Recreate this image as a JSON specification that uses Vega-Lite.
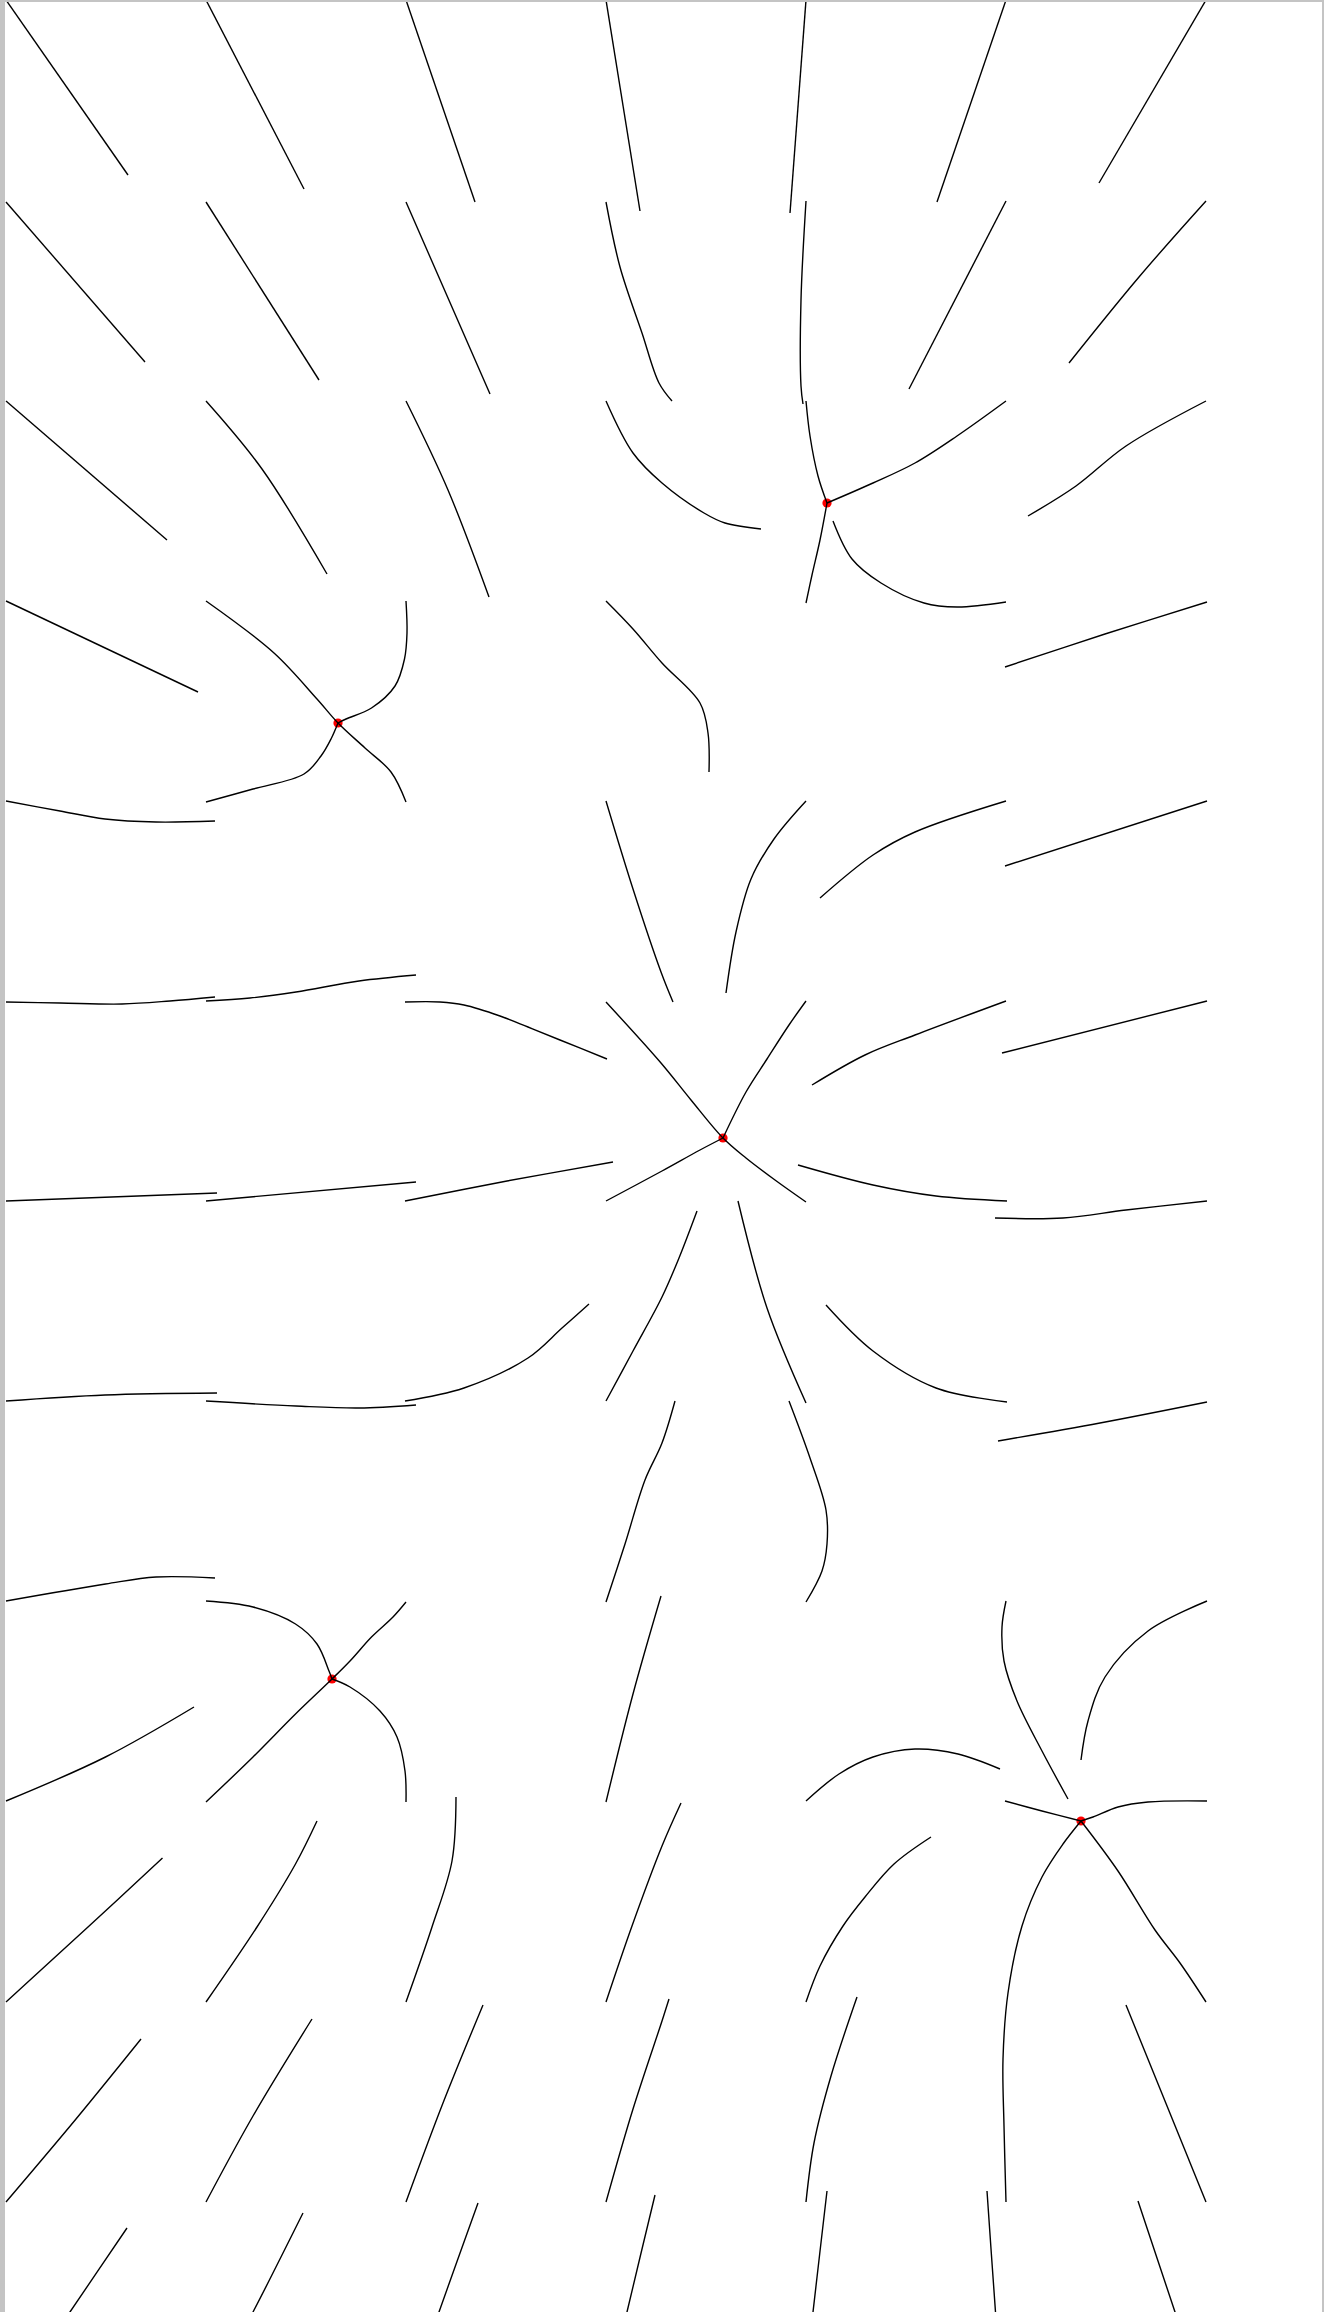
{
  "$schema": "https://vega.github.io/schema/vega-lite/v6.json",
  "autosize": {"type": "fit", "contains": "padding"},
  "width": 1324,
  "height": 2312,
  "padding": {"left": 5, "top": 2, "right": 2, "bottom": 0},
  "background": "#c4c4c4",
  "config": {"view": {"fill": "white", "stroke": null}},
  "datasets": {
    "crit": [
      {"x": 1.69, "y": 3.615}, {"x": 4.135, "y": 2.515}, {"x": 3.615, "y": 5.69}, {"x": 1.66, "y": 8.395}, {"x": 5.405, "y": 9.105}
    ],
    "lines": [
      {"s":1,"o":0,"x":0.03,"y":0},{"s":1,"o":1,"x":0.64,"y":0.875},
      {"s":2,"o":0,"x":1.03,"y":0},{"s":2,"o":1,"x":1.52,"y":0.945},
      {"s":3,"o":0,"x":2.03,"y":0},{"s":3,"o":1,"x":2.375,"y":1.01},
      {"s":4,"o":0,"x":3.03,"y":0},{"s":4,"o":1,"x":3.2,"y":1.055},
      {"s":5,"o":0,"x":4.03,"y":0},{"s":5,"o":1,"x":3.95,"y":1.065},
      {"s":6,"o":0,"x":5.03,"y":0},{"s":6,"o":1,"x":4.685,"y":1.01},
      {"s":7,"o":0,"x":6.03,"y":0},{"s":7,"o":1,"x":5.495,"y":0.915},
      {"s":8,"o":0,"x":0.03,"y":1.01},{"s":8,"o":1,"x":0.725,"y":1.81},
      {"s":9,"o":0,"x":1.03,"y":1.01},{"s":9,"o":1,"x":1.595,"y":1.9},
      {"s":10,"o":0,"x":2.03,"y":1.01},{"s":10,"o":1,"x":2.45,"y":1.97},
      {"s":11,"o":0,"x":3.03,"y":1.01},{"s":11,"o":1,"x":3.1,"y":1.335},{"s":11,"o":2,"x":3.21,"y":1.665},{"s":11,"o":3,"x":3.295,"y":1.915},{"s":11,"o":4,"x":3.36,"y":2.005},
      {"s":12,"o":0,"x":4.03,"y":1.005},{"s":12,"o":1,"x":4.005,"y":1.5},{"s":12,"o":2,"x":4.005,"y":1.93},{"s":12,"o":3,"x":4.015,"y":2.02},
      {"s":13,"o":0,"x":5.03,"y":1.005},{"s":13,"o":1,"x":4.545,"y":1.945},
      {"s":14,"o":0,"x":6.03,"y":1.005},{"s":14,"o":1,"x":5.695,"y":1.385},{"s":14,"o":2,"x":5.345,"y":1.815},
      {"s":15,"o":0,"x":0.03,"y":2.005},{"s":15,"o":1,"x":0.835,"y":2.7},
      {"s":16,"o":0,"x":1.03,"y":2.005},{"s":16,"o":1,"x":1.31,"y":2.345},{"s":16,"o":2,"x":1.635,"y":2.87},
      {"s":17,"o":0,"x":2.03,"y":2.005},{"s":17,"o":1,"x":2.24,"y":2.45},{"s":17,"o":2,"x":2.445,"y":2.985},
      {"s":18,"o":0,"x":3.03,"y":2.005},{"s":18,"o":1,"x":3.165,"y":2.265},{"s":18,"o":2,"x":3.31,"y":2.415},{"s":18,"o":3,"x":3.52,"y":2.565},{"s":18,"o":4,"x":3.625,"y":2.615},{"s":18,"o":5,"x":3.805,"y":2.645},
      {"s":19,"o":0,"x":4.03,"y":2.005},{"s":19,"o":1,"x":4.05,"y":2.18},{"s":19,"o":2,"x":4.09,"y":2.38},{"s":19,"o":3,"x":4.135,"y":2.515},
      {"s":85,"o":0,"x":4.135,"y":2.515},{"s":85,"o":1,"x":4.1,"y":2.7},{"s":85,"o":2,"x":4.06,"y":2.875},{"s":85,"o":3,"x":4.03,"y":3.015},
      {"s":20,"o":0,"x":5.03,"y":2.005},{"s":20,"o":1,"x":4.785,"y":2.18},{"s":20,"o":2,"x":4.575,"y":2.315},{"s":20,"o":3,"x":4.365,"y":2.415},{"s":20,"o":4,"x":4.135,"y":2.515},
      {"s":21,"o":0,"x":6.03,"y":2.005},{"s":21,"o":1,"x":5.63,"y":2.23},{"s":21,"o":2,"x":5.38,"y":2.43},{"s":21,"o":3,"x":5.14,"y":2.58},
      {"s":22,"o":0,"x":0.03,"y":3.005},{"s":22,"o":1,"x":0.99,"y":3.46},
      {"s":23,"o":0,"x":1.03,"y":3.005},{"s":23,"o":1,"x":1.37,"y":3.265},{"s":23,"o":2,"x":1.585,"y":3.495},{"s":23,"o":3,"x":1.69,"y":3.615},{"s":23,"o":4,"x":1.825,"y":3.74},{"s":23,"o":5,"x":1.955,"y":3.86},{"s":23,"o":6,"x":2.03,"y":4.01},
      {"s":24,"o":0,"x":2.03,"y":3.005},{"s":24,"o":1,"x":2.035,"y":3.165},{"s":24,"o":2,"x":2.0225,"y":3.295},{"s":24,"o":3,"x":1.975,"y":3.43},{"s":24,"o":4,"x":1.8575,"y":3.54},{"s":24,"o":5,"x":1.73,"y":3.595},{"s":24,"o":6,"x":1.69,"y":3.615},
      {"s":25,"o":0,"x":1.03,"y":4.01},{"s":25,"o":1,"x":1.265,"y":3.945},{"s":25,"o":2,"x":1.52,"y":3.87},{"s":25,"o":3,"x":1.605,"y":3.78},{"s":25,"o":4,"x":1.655,"y":3.695},{"s":25,"o":5,"x":1.69,"y":3.615},
      {"s":26,"o":0,"x":3.03,"y":3.005},{"s":26,"o":1,"x":3.165,"y":3.145},{"s":26,"o":2,"x":3.31,"y":3.315},{"s":26,"o":3,"x":3.5,"y":3.515},{"s":26,"o":4,"x":3.54,"y":3.665},{"s":26,"o":5,"x":3.545,"y":3.86},
      {"s":27,"o":0,"x":5.03,"y":3.01},{"s":27,"o":1,"x":4.785,"y":3.035},{"s":27,"o":2,"x":4.62,"y":3.015},{"s":27,"o":3,"x":4.405,"y":2.915},{"s":27,"o":4,"x":4.26,"y":2.795},{"s":27,"o":5,"x":4.165,"y":2.605},
      {"s":28,"o":0,"x":6.035,"y":3.01},{"s":28,"o":1,"x":5.525,"y":3.17},{"s":28,"o":2,"x":5.025,"y":3.335},
      {"s":29,"o":0,"x":0.03,"y":4.005},{"s":29,"o":1,"x":0.3,"y":4.055},{"s":29,"o":2,"x":0.525,"y":4.095},{"s":29,"o":3,"x":0.78,"y":4.11},{"s":29,"o":4,"x":1.075,"y":4.105},
      {"s":30,"o":0,"x":3.03,"y":4.005},{"s":30,"o":1,"x":3.165,"y":4.445},{"s":30,"o":2,"x":3.305,"y":4.86},{"s":30,"o":3,"x":3.365,"y":5.01},
      {"s":31,"o":0,"x":4.03,"y":4.005},{"s":31,"o":1,"x":3.87,"y":4.195},{"s":31,"o":2,"x":3.755,"y":4.395},{"s":31,"o":3,"x":3.68,"y":4.66},{"s":31,"o":4,"x":3.63,"y":4.965},
      {"s":32,"o":0,"x":5.03,"y":4.005},{"s":32,"o":1,"x":4.575,"y":4.16},{"s":32,"o":2,"x":4.365,"y":4.275},{"s":32,"o":3,"x":4.1,"y":4.49},
      {"s":33,"o":0,"x":6.035,"y":4.005},{"s":33,"o":1,"x":5.025,"y":4.33},
      {"s":34,"o":0,"x":0.03,"y":5.01},{"s":34,"o":1,"x":0.3,"y":5.015},{"s":34,"o":2,"x":0.61,"y":5.02},{"s":34,"o":3,"x":0.85,"y":5.005},{"s":34,"o":4,"x":1.075,"y":4.985},
      {"s":35,"o":0,"x":1.03,"y":5.005},{"s":35,"o":1,"x":1.25,"y":4.99},{"s":35,"o":2,"x":1.48,"y":4.96},{"s":35,"o":3,"x":1.795,"y":4.905},{"s":35,"o":4,"x":2.08,"y":4.875},
      {"s":36,"o":0,"x":2.025,"y":5.01},{"s":36,"o":1,"x":2.2,"y":5.01},{"s":36,"o":2,"x":2.32,"y":5.025},{"s":36,"o":3,"x":2.5,"y":5.08},{"s":36,"o":4,"x":2.64,"y":5.135},{"s":36,"o":5,"x":2.8,"y":5.2},{"s":36,"o":6,"x":3.035,"y":5.295},
      {"s":37,"o":0,"x":3.03,"y":5.01},{"s":37,"o":1,"x":3.305,"y":5.315},{"s":37,"o":2,"x":3.455,"y":5.5},{"s":37,"o":3,"x":3.615,"y":5.69},{"s":37,"o":4,"x":3.73,"y":5.79},{"s":37,"o":5,"x":3.875,"y":5.9},{"s":37,"o":6,"x":4.03,"y":6.01},
      {"s":38,"o":0,"x":4.03,"y":5.005},{"s":38,"o":1,"x":3.945,"y":5.125},{"s":38,"o":2,"x":3.835,"y":5.295},{"s":38,"o":3,"x":3.73,"y":5.46},{"s":38,"o":4,"x":3.615,"y":5.69},
      {"s":86,"o":0,"x":3.615,"y":5.69},{"s":86,"o":1,"x":3.5,"y":5.75},{"s":86,"o":2,"x":3.31,"y":5.855},{"s":86,"o":3,"x":3.03,"y":6.005},
      {"s":39,"o":0,"x":5.03,"y":5.005},{"s":39,"o":1,"x":4.575,"y":5.175},{"s":39,"o":2,"x":4.325,"y":5.275},{"s":39,"o":3,"x":4.06,"y":5.425},
      {"s":40,"o":0,"x":6.035,"y":5.005},{"s":40,"o":1,"x":5.01,"y":5.265},
      {"s":41,"o":0,"x":0.03,"y":6.005},{"s":41,"o":1,"x":1.085,"y":5.965},
      {"s":42,"o":0,"x":1.03,"y":6.005},{"s":42,"o":1,"x":2.08,"y":5.91},
      {"s":43,"o":0,"x":2.025,"y":6.005},{"s":43,"o":1,"x":2.535,"y":5.905},{"s":43,"o":2,"x":3.065,"y":5.81},
      {"s":44,"o":0,"x":3.99,"y":5.825},{"s":44,"o":1,"x":4.365,"y":5.925},{"s":44,"o":2,"x":4.68,"y":5.98},{"s":44,"o":3,"x":5.035,"y":6.005},
      {"s":45,"o":0,"x":4.975,"y":6.09},{"s":45,"o":1,"x":5.315,"y":6.09},{"s":45,"o":2,"x":5.63,"y":6.05},{"s":45,"o":3,"x":6.035,"y":6.005},
      {"s":46,"o":0,"x":0.03,"y":7.005},{"s":46,"o":1,"x":0.525,"y":6.975},{"s":46,"o":2,"x":1.085,"y":6.965},
      {"s":47,"o":0,"x":1.03,"y":7.005},{"s":47,"o":1,"x":1.48,"y":7.03},{"s":47,"o":2,"x":1.795,"y":7.04},{"s":47,"o":3,"x":2.08,"y":7.025},
      {"s":48,"o":0,"x":2.025,"y":7.005},{"s":48,"o":1,"x":2.32,"y":6.94},{"s":48,"o":2,"x":2.64,"y":6.79},{"s":48,"o":3,"x":2.81,"y":6.64},{"s":48,"o":4,"x":2.945,"y":6.52},
      {"s":49,"o":0,"x":3.03,"y":7.005},{"s":49,"o":1,"x":3.165,"y":6.755},{"s":49,"o":2,"x":3.31,"y":6.485},{"s":49,"o":3,"x":3.395,"y":6.29},{"s":49,"o":4,"x":3.485,"y":6.055},
      {"s":50,"o":0,"x":3.69,"y":6.005},{"s":50,"o":1,"x":3.835,"y":6.54},{"s":50,"o":2,"x":4.03,"y":7.015},
      {"s":51,"o":0,"x":4.13,"y":6.525},{"s":51,"o":1,"x":4.365,"y":6.755},{"s":51,"o":2,"x":4.68,"y":6.94},{"s":51,"o":3,"x":5.035,"y":7.01},
      {"s":52,"o":0,"x":4.99,"y":7.205},{"s":52,"o":1,"x":5.5,"y":7.115},{"s":52,"o":2,"x":6.035,"y":7.01},
      {"s":53,"o":0,"x":0.03,"y":8.005},{"s":53,"o":1,"x":0.5275,"y":7.92},{"s":53,"o":2,"x":0.78,"y":7.885},{"s":53,"o":3,"x":1.075,"y":7.89},
      {"s":54,"o":0,"x":1.03,"y":8.005},{"s":54,"o":1,"x":1.265,"y":8.035},{"s":54,"o":2,"x":1.4775,"y":8.12},{"s":54,"o":3,"x":1.585,"y":8.22},{"s":54,"o":4,"x":1.645,"y":8.355},{"s":54,"o":5,"x":1.66,"y":8.395},
      {"s":87,"o":0,"x":1.66,"y":8.395},{"s":87,"o":1,"x":1.75,"y":8.435},{"s":87,"o":2,"x":1.9,"y":8.555},{"s":87,"o":3,"x":1.985,"y":8.685},{"s":87,"o":4,"x":2.025,"y":8.855},{"s":87,"o":5,"x":2.03,"y":9.01},
      {"s":55,"o":0,"x":2.03,"y":8.01},{"s":55,"o":1,"x":1.965,"y":8.085},{"s":55,"o":2,"x":1.8575,"y":8.185},{"s":55,"o":3,"x":1.75,"y":8.305},{"s":55,"o":4,"x":1.66,"y":8.395},{"s":55,"o":5,"x":1.4775,"y":8.57},{"s":55,"o":6,"x":1.265,"y":8.785},{"s":55,"o":7,"x":1.03,"y":9.01},
      {"s":56,"o":0,"x":3.03,"y":8.01},{"s":56,"o":1,"x":3.125,"y":7.72},{"s":56,"o":2,"x":3.225,"y":7.4},{"s":56,"o":3,"x":3.31,"y":7.215},{"s":56,"o":4,"x":3.375,"y":7.005},
      {"s":57,"o":0,"x":3.945,"y":7.005},{"s":57,"o":1,"x":4.05,"y":7.29},{"s":57,"o":2,"x":4.13,"y":7.55},{"s":57,"o":3,"x":4.135,"y":7.72},{"s":57,"o":4,"x":4.11,"y":7.855},{"s":57,"o":5,"x":4.03,"y":8.01},
      {"s":58,"o":0,"x":5.03,"y":8.005},{"s":58,"o":1,"x":5.01,"y":8.135},{"s":58,"o":2,"x":5.02,"y":8.305},{"s":58,"o":3,"x":5.085,"y":8.505},{"s":58,"o":4,"x":5.21,"y":8.755},{"s":58,"o":5,"x":5.34,"y":8.995},
      {"s":59,"o":0,"x":6.035,"y":8.005},{"s":59,"o":1,"x":5.74,"y":8.155},{"s":59,"o":2,"x":5.525,"y":8.385},{"s":59,"o":3,"x":5.44,"y":8.605},{"s":59,"o":4,"x":5.405,"y":8.8},
      {"s":60,"o":0,"x":0.03,"y":9.005},{"s":60,"o":1,"x":0.5275,"y":8.785},{"s":60,"o":2,"x":0.97,"y":8.535},
      {"s":61,"o":0,"x":3.03,"y":9.01},{"s":61,"o":1,"x":3.165,"y":8.47},{"s":61,"o":2,"x":3.305,"y":7.98},
      {"s":62,"o":0,"x":4.03,"y":9.005},{"s":62,"o":1,"x":4.195,"y":8.87},{"s":62,"o":2,"x":4.365,"y":8.785},{"s":62,"o":3,"x":4.575,"y":8.745},{"s":62,"o":4,"x":4.79,"y":8.77},{"s":62,"o":5,"x":5.0,"y":8.845},
      {"s":63,"o":0,"x":5.025,"y":9.005},{"s":63,"o":1,"x":5.21,"y":9.055},{"s":63,"o":2,"x":5.405,"y":9.105},
      {"s":64,"o":0,"x":6.035,"y":9.005},{"s":64,"o":1,"x":5.74,"y":9.01},{"s":64,"o":2,"x":5.59,"y":9.035},{"s":64,"o":3,"x":5.465,"y":9.085},{"s":64,"o":4,"x":5.405,"y":9.105},
      {"s":65,"o":0,"x":5.03,"y":11.01},{"s":65,"o":1,"x":5.02,"y":10.63},{"s":65,"o":2,"x":5.015,"y":10.295},{"s":65,"o":3,"x":5.04,"y":9.965},{"s":65,"o":4,"x":5.11,"y":9.63},{"s":65,"o":5,"x":5.21,"y":9.385},{"s":65,"o":6,"x":5.315,"y":9.22},{"s":65,"o":7,"x":5.405,"y":9.105},
      {"s":66,"o":0,"x":5.405,"y":9.105},{"s":66,"o":1,"x":5.59,"y":9.355},{"s":66,"o":2,"x":5.775,"y":9.65},{"s":66,"o":3,"x":5.9,"y":9.815},{"s":66,"o":4,"x":6.03,"y":10.01},
      {"s":67,"o":0,"x":0.03,"y":10.01},{"s":67,"o":1,"x":0.44,"y":9.635},{"s":67,"o":2,"x":0.8125,"y":9.29},
      {"s":68,"o":0,"x":1.03,"y":10.01},{"s":68,"o":1,"x":1.285,"y":9.635},{"s":68,"o":2,"x":1.4775,"y":9.32},{"s":68,"o":3,"x":1.585,"y":9.105},
      {"s":69,"o":0,"x":2.03,"y":10.01},{"s":69,"o":1,"x":2.16,"y":9.635},{"s":69,"o":2,"x":2.26,"y":9.305},{"s":69,"o":3,"x":2.28,"y":8.985},
      {"s":70,"o":0,"x":3.03,"y":10.01},{"s":70,"o":1,"x":3.16,"y":9.63},{"s":70,"o":2,"x":3.31,"y":9.23},{"s":70,"o":3,"x":3.405,"y":9.015},
      {"s":71,"o":0,"x":4.03,"y":10.01},{"s":71,"o":1,"x":4.1,"y":9.83},{"s":71,"o":2,"x":4.215,"y":9.63},{"s":71,"o":3,"x":4.325,"y":9.485},{"s":71,"o":4,"x":4.47,"y":9.32},{"s":71,"o":5,"x":4.655,"y":9.185},
      {"s":72,"o":0,"x":0.03,"y":11.01},{"s":72,"o":1,"x":0.38,"y":10.595},{"s":72,"o":2,"x":0.705,"y":10.195},
      {"s":73,"o":0,"x":1.03,"y":11.01},{"s":73,"o":1,"x":1.265,"y":10.58},{"s":73,"o":2,"x":1.56,"y":10.095},
      {"s":74,"o":0,"x":2.03,"y":11.01},{"s":74,"o":1,"x":2.215,"y":10.515},{"s":74,"o":2,"x":2.415,"y":10.025},
      {"s":75,"o":0,"x":3.03,"y":11.01},{"s":75,"o":1,"x":3.165,"y":10.545},{"s":75,"o":2,"x":3.31,"y":10.105},{"s":75,"o":3,"x":3.345,"y":9.995},
      {"s":76,"o":0,"x":4.03,"y":11.01},{"s":76,"o":1,"x":4.07,"y":10.715},{"s":76,"o":2,"x":4.155,"y":10.38},{"s":76,"o":3,"x":4.285,"y":9.985},
      {"s":77,"o":0,"x":6.03,"y":11.01},{"s":77,"o":1,"x":5.63,"y":10.025},
      {"s":78,"o":0,"x":0.635,"y":11.14},{"s":78,"o":1,"x":0.35,"y":11.56},{"s":78,"o":2,"x":0.29,"y":11.65},
      {"s":79,"o":0,"x":1.515,"y":11.065},{"s":79,"o":1,"x":1.265,"y":11.56},{"s":79,"o":2,"x":1.215,"y":11.65},
      {"s":80,"o":0,"x":2.39,"y":11.015},{"s":80,"o":1,"x":2.195,"y":11.56},{"s":80,"o":2,"x":2.165,"y":11.65},
      {"s":81,"o":0,"x":3.275,"y":10.975},{"s":81,"o":1,"x":3.135,"y":11.56},{"s":81,"o":2,"x":3.115,"y":11.65},
      {"s":82,"o":0,"x":4.135,"y":10.955},{"s":82,"o":1,"x":4.065,"y":11.56},{"s":82,"o":2,"x":4.055,"y":11.65},
      {"s":83,"o":0,"x":4.935,"y":10.955},{"s":83,"o":1,"x":4.9775,"y":11.56},{"s":83,"o":2,"x":4.985,"y":11.65},
      {"s":84,"o":0,"x":5.69,"y":11.005},{"s":84,"o":1,"x":5.875,"y":11.56},{"s":84,"o":2,"x":5.905,"y":11.65}
    ]
  },
  "layer": [
    {
      "data": {"name": "crit"},
      "mark": {"type": "circle", "color": "#ff0000", "opacity": 1, "size": 85, "clip": true},
      "encoding": {
        "x": {"field": "x", "type": "quantitative", "scale": {"domain": [0.025, 6.61], "zero": false, "nice": false}, "axis": null},
        "y": {"field": "y", "type": "quantitative", "scale": {"domain": [0.01, 11.56], "zero": false, "nice": false, "reverse": true}, "axis": null}
      }
    },
    {
      "data": {"name": "lines"},
      "mark": {"type": "line", "color": "#000000", "strokeWidth": 1.4, "interpolate": "catmull-rom", "clip": true},
      "encoding": {
        "x": {"field": "x", "type": "quantitative", "scale": {"domain": [0.025, 6.61], "zero": false, "nice": false}, "axis": null},
        "y": {"field": "y", "type": "quantitative", "scale": {"domain": [0.01, 11.56], "zero": false, "nice": false, "reverse": true}, "axis": null},
        "detail": {"field": "s", "type": "nominal"},
        "order": {"field": "o", "type": "quantitative"}
      }
    }
  ]
}
